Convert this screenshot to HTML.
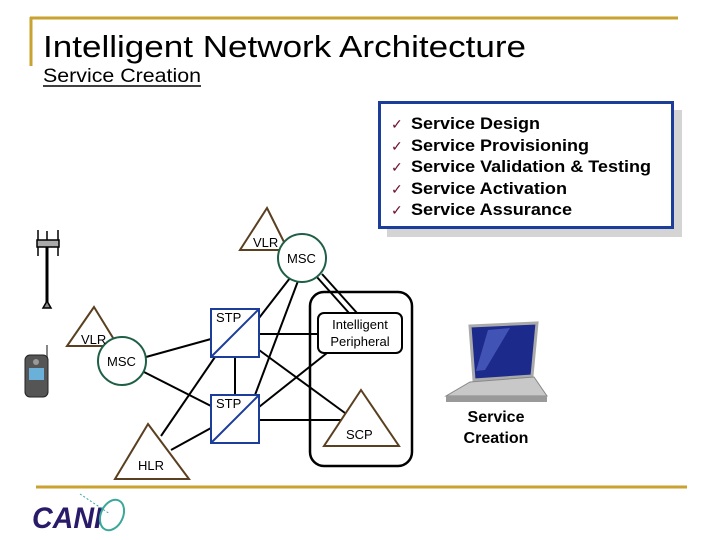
<!DOCTYPE html>
<html><head><meta charset="utf-8"><style>
body{margin:0;width:720px;height:540px;background:#fff;overflow:hidden;font-family:"Liberation Sans",sans-serif}
</style></head><body>
<svg width="720" height="540" viewBox="0 0 720 540" xmlns="http://www.w3.org/2000/svg" style="position:absolute;left:0;top:0">
<g fill="none">
<line x1="30" y1="18" x2="678" y2="18" stroke="#c9a22f" stroke-width="3"/>
<line x1="31" y1="17" x2="31" y2="66" stroke="#c9a22f" stroke-width="3"/>
<line x1="36" y1="487" x2="687" y2="487" stroke="#c9a22f" stroke-width="3"/>
</g>
<text x="43" y="57" font-size="31" textLength="483" lengthAdjust="spacingAndGlyphs" fill="#000">Intelligent Network Architecture</text>
<text x="43" y="82" font-size="19" textLength="158" lengthAdjust="spacingAndGlyphs" fill="#000">Service Creation</text>
<line x1="43" y1="86" x2="201" y2="86" stroke="#000" stroke-width="1.5"/>
<!-- service box -->
<rect x="387" y="110" width="295" height="127" fill="#d4d4d4"/>
<rect x="379.5" y="102.5" width="293" height="125" fill="#fff" stroke="#1c3d9a" stroke-width="3"/>
<g font-size="17" font-weight="bold" fill="#000" lengthAdjust="spacingAndGlyphs">
<text x="411" y="129" textLength="129" lengthAdjust="spacingAndGlyphs">Service Design</text>
<text x="411" y="151" textLength="178" lengthAdjust="spacingAndGlyphs">Service Provisioning</text>
<text x="411" y="172" textLength="240" lengthAdjust="spacingAndGlyphs">Service Validation &amp; Testing</text>
<text x="411" y="194" textLength="156" lengthAdjust="spacingAndGlyphs">Service Activation</text>
<text x="411" y="215" textLength="161" lengthAdjust="spacingAndGlyphs">Service Assurance</text>
</g>
<g font-size="14" fill="#6b1030">
<text x="391" y="129">✓</text><text x="391" y="151">✓</text><text x="391" y="172">✓</text><text x="391" y="194">✓</text><text x="391" y="215">✓</text>
</g>
<!-- outer rounded box -->
<rect x="310" y="292" width="102" height="174" rx="14" fill="none" stroke="#000" stroke-width="2.5"/>
<!-- connectors -->
<g stroke="#000" stroke-width="2">
<line x1="146" y1="357" x2="211" y2="339"/>
<line x1="144" y1="372" x2="211" y2="406"/>
<line x1="235" y1="357" x2="235" y2="395"/>
<line x1="290" y1="278" x2="259" y2="318"/>
<line x1="298" y1="281" x2="255" y2="395"/>
<line x1="316" y1="276" x2="349" y2="313"/>
<line x1="322" y1="274" x2="357" y2="313"/>
<line x1="259" y1="334" x2="318" y2="334"/>
<line x1="259" y1="350" x2="345" y2="413"/>
<line x1="259" y1="407" x2="327" y2="353"/>
<line x1="259" y1="420" x2="344" y2="420"/>
<line x1="161" y1="436" x2="215" y2="357"/>
<line x1="171" y1="450" x2="211" y2="428"/>
</g>
<!-- triangles -->
<g fill="#fff" stroke="#5a4020" stroke-width="2">
<polygon points="267,208 288,250 240,250"/>
<polygon points="94,307 118,346 67,346"/>
<polygon points="361,390 399,446 324,446"/>
<polygon points="148,424 189,479 115,479"/>
</g>
<!-- MSC circles -->
<g fill="#fff" stroke="#1f5f46" stroke-width="2">
<circle cx="302" cy="258" r="24"/>
<circle cx="122" cy="361" r="24"/>
</g>
<!-- STP boxes -->
<g fill="#fff" stroke="#1c3d9a" stroke-width="2">
<rect x="211" y="309" width="48" height="48"/>
<line x1="211" y1="357" x2="259" y2="309"/>
<rect x="211" y="395" width="48" height="48"/>
<line x1="211" y1="443" x2="259" y2="395"/>
</g>
<!-- IP box -->
<rect x="318" y="313" width="84" height="40" rx="6" fill="#fff" stroke="#000" stroke-width="2"/>
<g font-size="13" fill="#000">
<text x="253" y="247">VLR</text>
<text x="287" y="263">MSC</text>
<text x="81" y="344">VLR</text>
<text x="107" y="366">MSC</text>
<text x="216" y="322">STP</text>
<text x="216" y="408">STP</text>
<text x="346" y="439">SCP</text>
<text x="138" y="470">HLR</text>
<text x="360" y="329" text-anchor="middle">Intelligent</text>
<text x="360" y="346" text-anchor="middle">Peripheral</text>
</g>
<!-- tower -->
<g stroke="#000" stroke-width="1.5">
<line x1="38" y1="230" x2="38" y2="256"/><line x1="58" y1="230" x2="58" y2="256"/>
<line x1="47" y1="231" x2="47" y2="240"/>
<rect x="37" y="240" width="22" height="7" fill="#aaa"/>
<line x1="47" y1="247" x2="47" y2="303" stroke-width="3"/>
<polygon points="47,301 51,308 43,308" fill="#888"/>
</g>
<!-- phone -->
<line x1="47" y1="345" x2="47" y2="360" stroke="#888" stroke-width="2"/>
<rect x="25" y="355" width="23" height="42" rx="5" fill="#555" stroke="#222"/>
<rect x="29" y="368" width="15" height="12" fill="#6ab0d8"/>
<circle cx="36" cy="362" r="3" fill="#999"/>
<!-- laptop -->
<polygon points="470,326 537,323 532,376 474,380" fill="#1c2a8c" stroke="#aaa" stroke-width="3"/>
<polygon points="488,330 510,328 485,370 476,371" fill="#5a70d0" opacity="0.6"/>
<polygon points="470,382 534,377 547,396 446,396" fill="#c8c8c8" stroke="#888"/>
<polygon points="446,396 547,396 547,402 446,402" fill="#999"/>
<g font-size="16" font-weight="bold" fill="#000" text-anchor="middle">
<text x="496" y="422">Service</text>
<text x="496" y="443">Creation</text>
</g>
<!-- logo -->
<text x="32" y="528" font-size="30" font-weight="bold" font-style="italic" fill="#2a1a6a" textLength="70" lengthAdjust="spacingAndGlyphs">CANI</text>
<ellipse cx="112" cy="515" rx="11" ry="16" fill="none" stroke="#3aa89a" stroke-width="2" transform="rotate(25 112 515)"/>
<line x1="80" y1="494" x2="110" y2="514" stroke="#3aa89a" stroke-dasharray="2,2"/>
</svg>
</body></html>
